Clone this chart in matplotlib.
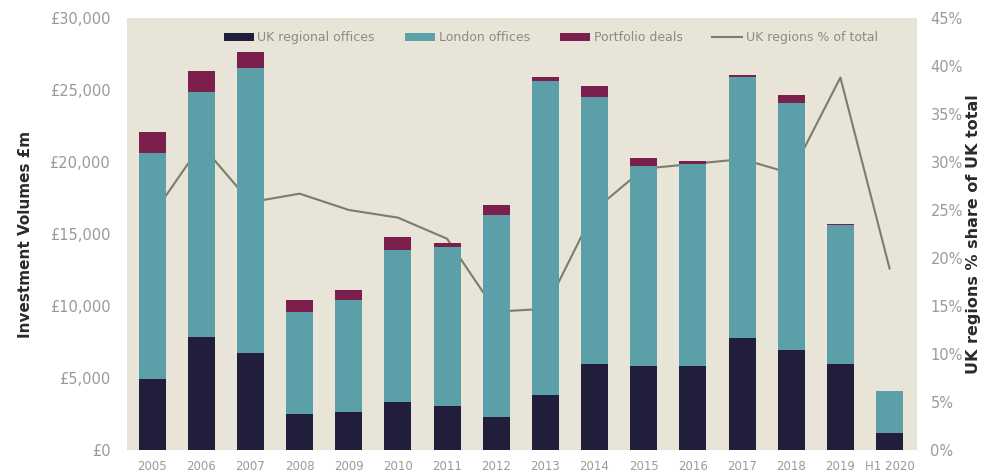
import numpy as np
import matplotlib.pyplot as plt
from matplotlib.ticker import FuncFormatter

# Office investment volumes (£m) and UK regions share of UK total (%)
years = ['2005', '2006', '2007', '2008', '2009', '2010', '2011', '2012',
         '2013', '2014', '2015', '2016', '2017', '2018', '2019', 'H1 2020']
regional = [4950, 7850, 6700, 2470, 2650, 3300, 3070, 2310,
            3810, 5940, 5840, 5840, 7740, 6930, 5940, 1160]
london = [15680, 17030, 19860, 7120, 7750, 10560, 11020, 13980,
          21830, 18590, 13860, 14030, 18130, 17160, 9700, 2930]
portfolio = [1470, 1450, 1090, 810, 690, 920, 300, 740,
             280, 760, 560, 230, 160, 580, 60, 0]
regions_share = [24.4, 31.8, 25.8, 26.7, 25.0, 24.2, 22.0, 14.4,
                 14.7, 25.0, 29.3, 29.8, 30.3, 28.8, 38.8, 18.9]

c_regional = '#201e3a'
c_london = '#5b9fa8'
c_portfolio = '#7b1f4c'
c_line = '#7b7d6c'
c_tick = '#9a9a9a'
c_bg = '#e8e4d8'

plt.rcParams['font.family'] = ['DejaVu Sans']

fig = plt.figure(figsize=(9.92, 4.75), dpi=100)
ax = fig.add_axes([0.128, 0.053, 0.796, 0.909])
ax2 = ax.twinx()

x = np.arange(len(years))
w = 0.55
reg = np.array(regional)
lon = np.array(london)
por = np.array(portfolio)

# share line is drawn underneath the bars
ax2.plot(x, regions_share, color=c_line, lw=1.5, zorder=1,
         label='UK regions % of total')
ax2.set_ylim(0, 45)

ax.bar(x, reg, w, color=c_regional, label='UK regional offices', zorder=2)
ax.bar(x, lon, w, bottom=reg, color=c_london, label='London offices', zorder=2)
ax.bar(x, por, w, bottom=reg + lon, color=c_portfolio, label='Portfolio deals', zorder=2)

ax.set_zorder(2)
ax.patch.set_visible(False)
ax2.set_zorder(1)
ax2.patch.set_visible(True)
ax2.patch.set_facecolor(c_bg)

ax.set_xlim(-0.51, len(years) - 1 + 0.55)
ax.set_ylim(0, 30000)
ax.set_yticks(np.arange(0, 30001, 5000))
ax.yaxis.set_major_formatter(FuncFormatter(lambda v, p: '£{:,.0f}'.format(v)))
ax2.set_yticks(np.arange(0, 46, 5))
ax2.yaxis.set_major_formatter(FuncFormatter(lambda v, p: '{:.0f}%'.format(v)))

ax.set_xticks(x)
ax.set_xticklabels(years)

for a in (ax, ax2):
    for s in a.spines.values():
        s.set_visible(False)
    a.tick_params(length=0, labelsize=10.5, colors=c_tick)
ax.tick_params(axis='y', pad=12)
ax.tick_params(axis='x', pad=7, labelsize=8.5)
ax2.tick_params(axis='y', pad=10)

ax.set_ylabel('Investment Volumes £m', fontsize=11, fontweight='bold',
              color='#2a2a2a', labelpad=12)
ax2.set_ylabel('UK regions % share of UK total', fontsize=11.5, fontweight='bold',
               color='#2a2a2a', labelpad=2)

h1, l1 = ax.get_legend_handles_labels()
h2, l2 = ax2.get_legend_handles_labels()
leg = ax.legend(h1 + h2, l1 + l2, loc='upper center', bbox_to_anchor=(0.537, 0.995),
                ncol=4, frameon=False, fontsize=9, handlelength=2.4,
                handleheight=0.6, columnspacing=2.4, handletextpad=0.3)
for t in leg.get_texts():
    t.set_color('#8a8a8a')

fig.savefig('out.png', dpi=100, facecolor='white')
